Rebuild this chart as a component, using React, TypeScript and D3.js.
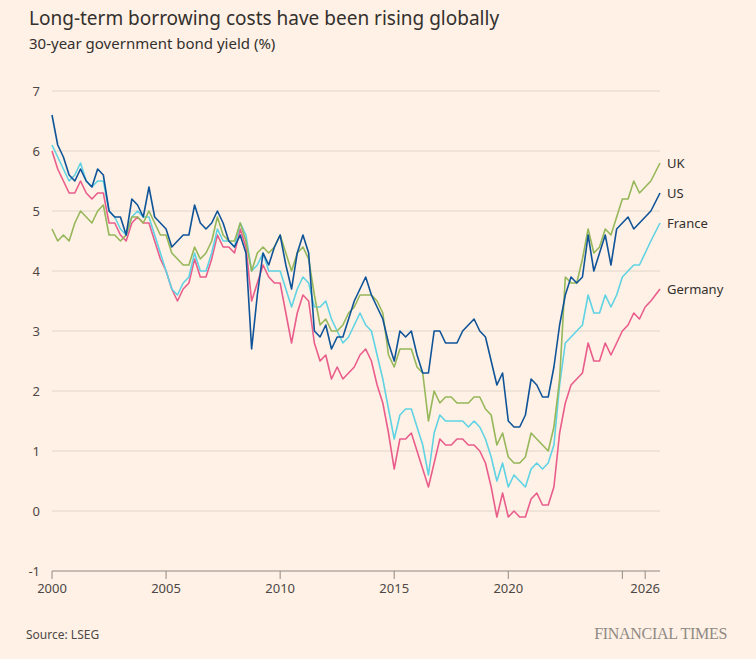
import React, { useEffect, useRef } from "react";
import * as d3 from "d3";

// quarterly readings, 2000 Q1 onwards (2026 has three)
const usYield = [
  6.6, 6.1, 5.9, 5.6, 5.5, 5.7, 5.5, 5.4, 5.7, 5.6, 5.0, 4.9, 4.9, 4.6, 5.2, 5.1,
  4.9, 5.4, 4.9, 4.8, 4.7, 4.4, 4.5, 4.6, 4.6, 5.1, 4.8, 4.7, 4.8, 5.0, 4.8, 4.5,
  4.4, 4.6, 4.3, 2.7, 3.6, 4.3, 4.1, 4.4, 4.6, 4.1, 3.7, 4.3, 4.6, 4.3, 3.0, 2.9,
  3.1, 2.7, 2.9, 2.9, 3.2, 3.5, 3.7, 3.9, 3.6, 3.4, 3.2, 2.8, 2.5, 3.0, 2.9, 3.0,
  2.6, 2.3, 2.3, 3.0, 3.0, 2.8, 2.8, 2.8, 3.0, 3.1, 3.2, 3.0, 2.9, 2.5, 2.1, 2.3,
  1.5, 1.4, 1.4, 1.6, 2.2, 2.1, 1.9, 1.9, 2.4, 3.1, 3.6, 3.9, 3.8, 3.9, 4.6, 4.0,
  4.3, 4.6, 4.1, 4.7, 4.8, 4.9, 4.7, 4.8, 4.9, 5.0, 5.3,
];
const ukYield = [
  4.7, 4.5, 4.6, 4.5, 4.8, 5.0, 4.9, 4.8, 5.0, 5.1, 4.6, 4.6, 4.5, 4.6, 4.9, 4.9,
  4.8, 5.0, 4.8, 4.6, 4.6, 4.3, 4.2, 4.1, 4.1, 4.4, 4.2, 4.3, 4.5, 4.9, 4.6, 4.5,
  4.5, 4.8, 4.5, 4.0, 4.3, 4.4, 4.3, 4.4, 4.6, 4.3, 4.0, 4.3, 4.4, 4.2, 3.6, 3.1,
  3.2, 3.0, 3.0, 3.1, 3.3, 3.4, 3.6, 3.6, 3.6, 3.5, 3.3, 2.6, 2.4, 2.7, 2.7, 2.7,
  2.4, 2.3, 1.5, 2.0, 1.8, 1.9, 1.9, 1.8, 1.8, 1.8, 1.9, 1.9, 1.7, 1.6, 1.1, 1.3,
  0.9, 0.8, 0.8, 0.9, 1.3, 1.2, 1.1, 1.0, 1.4, 2.2, 3.9, 3.8, 3.8, 4.2, 4.7, 4.3,
  4.4, 4.7, 4.6, 4.9, 5.2, 5.2, 5.5, 5.3, 5.4, 5.5, 5.8,
];
const franceYield = [
  6.1, 5.9, 5.7, 5.5, 5.6, 5.8, 5.5, 5.4, 5.5, 5.5, 5.0, 4.9, 4.7, 4.6, 4.9, 5.0,
  4.9, 4.9, 4.6, 4.3, 4.0, 3.7, 3.6, 3.8, 3.9, 4.3, 4.0, 4.0, 4.3, 4.7, 4.5, 4.5,
  4.4, 4.8, 4.6, 4.0, 4.1, 4.3, 4.0, 4.0, 4.0, 3.7, 3.4, 3.7, 3.9, 3.8, 3.4, 3.4,
  3.5, 3.2, 3.0, 2.8, 2.9, 3.1, 3.3, 3.1, 3.0, 2.6, 2.2, 1.7, 1.2, 1.6, 1.7, 1.7,
  1.4, 1.1, 0.6, 1.3, 1.6, 1.5, 1.5, 1.5, 1.5, 1.4, 1.5, 1.4, 1.2, 0.9, 0.5, 0.8,
  0.4, 0.6, 0.5, 0.4, 0.7, 0.8, 0.7, 0.8, 1.1, 2.1, 2.8, 2.9, 3.0, 3.1, 3.6, 3.3,
  3.3, 3.6, 3.4, 3.6, 3.9, 4.0, 4.1, 4.1, 4.3, 4.5, 4.8,
];
const germanyYield = [
  6.0, 5.7, 5.5, 5.3, 5.3, 5.5, 5.3, 5.2, 5.3, 5.3, 4.8, 4.8, 4.6, 4.5, 4.8, 4.9,
  4.8, 4.8, 4.5, 4.2, 4.0, 3.7, 3.5, 3.7, 3.8, 4.2, 3.9, 3.9, 4.2, 4.6, 4.4, 4.4,
  4.3, 4.7, 4.4, 3.5, 3.8, 4.1, 3.9, 3.8, 3.8, 3.3, 2.8, 3.3, 3.6, 3.5, 2.8, 2.5,
  2.6, 2.2, 2.4, 2.2, 2.3, 2.4, 2.6, 2.7, 2.5, 2.1, 1.8, 1.3, 0.7, 1.2, 1.2, 1.3,
  1.0, 0.7, 0.4, 0.8, 1.2, 1.1, 1.1, 1.2, 1.2, 1.1, 1.1, 1.0, 0.8, 0.4, -0.1, 0.3,
  -0.1, 0.0, -0.1, -0.1, 0.2, 0.3, 0.1, 0.1, 0.4, 1.3, 1.8, 2.1, 2.2, 2.3, 2.8, 2.5,
  2.5, 2.8, 2.6, 2.8, 3.0, 3.1, 3.3, 3.2, 3.4, 3.5, 3.7,
];

const seriesNames = ["Germany", "France", "UK", "US"];
const seriesColors = ["#e95d8c", "#5fd3e4", "#96b75a", "#0f5499"];
const seriesValues = [germanyYield, franceYield, ukYield, usYield];
const yTicks = [-1, 0, 1, 2, 3, 4, 5, 6, 7];
const xTicks = [2000, 2005, 2010, 2015, 2020, 2025, 2026];
const xLabels = [2000, 2005, 2010, 2015, 2020, 2026];

const W = 756;
const H = 659;

const App: React.FC = () => {
  const ref = useRef<SVGSVGElement>(null);

  useEffect(() => {
    const svg = d3.select(ref.current!);
    svg.selectAll("*").remove();
    const font = "'Noto Sans', sans-serif";

    const x = d3.scaleLinear().domain([2000, 2026.65]).range([52, 660]);
    const y = d3.scaleLinear().domain([-1, 7]).range([571, 91]);

    svg.append("rect").attr("width", W).attr("height", H).attr("fill", "#fff1e5");

    svg.append("text").attr("x", 29).attr("y", 25).attr("font-family", font)
      .attr("font-size", 19).attr("fill", "#33302e")
      .text("Long-term borrowing costs have been rising globally");
    svg.append("text").attr("x", 29).attr("y", 49).attr("font-family", font)
      .attr("font-size", 15).attr("fill", "#33302e")
      .text("30-year government bond yield (%)");

    // grid
    svg.append("g").selectAll("line").data(yTicks.filter((t) => t > -1)).join("line")
      .attr("x1", 52).attr("x2", 660)
      .attr("y1", (d) => y(d)).attr("y2", (d) => y(d))
      .attr("stroke", "#e0d6cc").attr("stroke-width", 1);
    svg.append("g").selectAll("text").data(yTicks).join("text")
      .attr("x", 40).attr("y", (d) => y(d) + 5).attr("text-anchor", "end")
      .attr("font-family", font).attr("font-size", 13).attr("fill", "#4d4845")
      .text((d) => d);

    // x axis
    const ax = svg.append("g");
    ax.append("line").attr("x1", 52).attr("x2", 660).attr("y1", y(-1)).attr("y2", y(-1))
      .attr("stroke", "#8f8984").attr("stroke-width", 1);
    ax.selectAll("line.t").data(xTicks).join("line").attr("class", "t")
      .attr("x1", (d) => x(d)).attr("x2", (d) => x(d))
      .attr("y1", y(-1)).attr("y2", y(-1) + 8)
      .attr("stroke", "#8f8984");
    ax.selectAll("text").data(xLabels).join("text")
      .attr("x", (d) => x(d)).attr("y", y(-1) + 22).attr("text-anchor", "middle")
      .attr("font-family", font).attr("font-size", 13).attr("fill", "#4d4845")
      .text((d) => d);

    // lines
    const line = d3.line<number>()
      .x((_, i) => x(2000 + i / 4 + (i === usYield.length - 1 ? 0.15 : 0)))
      .y((d) => y(d));
    seriesValues.forEach((vals, k) => {
      svg.append("path").attr("d", line(vals)).attr("fill", "none")
        .attr("stroke", seriesColors[k]).attr("stroke-width", 1.6)
        .attr("stroke-linejoin", "round");
      svg.append("text").attr("x", 667)
        .attr("y", y(vals[vals.length - 1]) + 5)
        .attr("font-family", font).attr("font-size", 13).attr("fill", "#33302e")
        .text(seriesNames[k]);
    });

    svg.append("text").attr("x", 26).attr("y", 639).attr("font-family", font)
      .attr("font-size", 12).attr("fill", "#4d4845").text("Source: LSEG");
    svg.append("text").attr("x", 727).attr("y", 639).attr("text-anchor", "end")
      .attr("font-family", "'Liberation Serif', serif").attr("font-size", 16)
      .attr("fill", "#8f8984").attr("letter-spacing", -0.3).text("FINANCIAL TIMES");
  }, []);

  return (
    <svg ref={ref} width={W} height={H}
      style={{ position: "absolute", left: 0, top: 0 }} />
  );
};

export default App;
